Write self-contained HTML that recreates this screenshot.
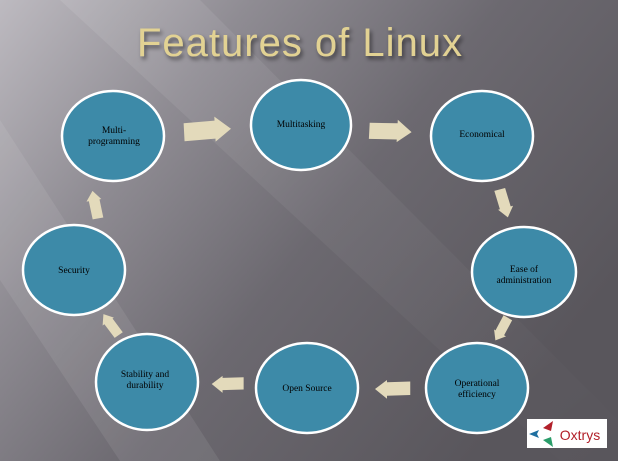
<!DOCTYPE html>
<html><head><meta charset="utf-8"><style>
html,body{margin:0;padding:0;width:618px;height:461px;overflow:hidden}
</style></head><body>
<svg width="618" height="461" viewBox="0 0 618 461" xmlns="http://www.w3.org/2000/svg">
<defs>
<linearGradient id="bg" x1="0" y1="0" x2="1" y2="0.6">
<stop offset="0" stop-color="#bdbac0"/>
<stop offset="0.3" stop-color="#8f8c93"/>
<stop offset="0.6" stop-color="#6c6970"/>
<stop offset="1" stop-color="#59565c"/>
</linearGradient>
<linearGradient id="band" x1="0" y1="0" x2="1" y2="1">
<stop offset="0" stop-color="#fff" stop-opacity="0.15"/>
<stop offset="1" stop-color="#fff" stop-opacity="0"/>
</linearGradient>
<g id="arr"><polygon points="-23,-8 8,-9 8,-13 24,0 8,12 8,9 -23,10" fill="#e3dabb"/></g>
<filter id="sh"><feDropShadow dx="2" dy="3" stdDeviation="2" flood-color="#000" flood-opacity="0.5"/></filter>
</defs>
<rect width="618" height="461" fill="url(#bg)"/>
<polygon points="0,120 220,461 120,461 0,280" fill="#fff" opacity="0.08"/>
<polygon points="60,0 200,0 618,420 618,461 560,461" fill="url(#band)" opacity="0.6"/>
<text x="300" y="56" text-anchor="middle" font-family="Liberation Sans, sans-serif" font-size="40" fill="#e2d293" filter="url(#sh)" letter-spacing="1">Features of Linux</text>
<g stroke="#fff" stroke-width="2.5" fill="#3d8aa8">
<ellipse cx="113" cy="136" rx="51" ry="45"/>
<ellipse cx="301" cy="125" rx="50" ry="45"/>
<ellipse cx="482" cy="136" rx="51" ry="45"/>
<ellipse cx="524" cy="272" rx="52" ry="45"/>
<ellipse cx="477" cy="388" rx="51" ry="45"/>
<ellipse cx="307" cy="388" rx="51" ry="45"/>
<ellipse cx="147" cy="382" rx="51" ry="48"/>
<ellipse cx="74" cy="270" rx="51" ry="45"/>
</g>
<use href="#arr" transform="translate(207,130) rotate(-3)"/>
<use href="#arr" transform="translate(390,131) rotate(3) scale(0.9)"/>
<use href="#arr" transform="translate(504,203) rotate(75) scale(0.62)"/>
<use href="#arr" transform="translate(502,329) rotate(120) scale(0.55)"/>
<use href="#arr" transform="translate(393,389) rotate(180) scale(0.75)"/>
<use href="#arr" transform="translate(228,384) rotate(180) scale(0.68)"/>
<use href="#arr" transform="translate(111,325) rotate(-125) scale(0.55)"/>
<use href="#arr" transform="translate(95,205) rotate(-100) scale(0.6)"/>
<g font-family="Liberation Serif, serif" font-size="9.5" fill="#000" text-anchor="middle">
<text x="114" y="133">Multi-</text><text x="114" y="144">programming</text>
<text x="301" y="127">Multitasking</text>
<text x="482" y="137">Economical</text>
<text x="524" y="272">Ease of</text><text x="524" y="283">administration</text>
<text x="477" y="386">Operational</text><text x="477" y="397">efficiency</text>
<text x="307" y="391">Open Source</text>
<text x="145" y="377">Stability and</text><text x="145" y="388">durability</text>
<text x="74" y="273">Security</text>
</g>
<rect x="527" y="419" width="80" height="29" fill="#fff"/>
<polygon points="529,434 539,430 537,434 539,438" fill="#1f6fa0"/>
<polygon points="543,428 553,421 551,431" fill="#b2202a"/>
<polygon points="543,440 553,447 551,437" fill="#2a9d6a"/>
<text x="580" y="440" text-anchor="middle" font-family="Liberation Sans, sans-serif" font-size="14" fill="#b2202a">Oxtrys</text>
</svg>
</body></html>
